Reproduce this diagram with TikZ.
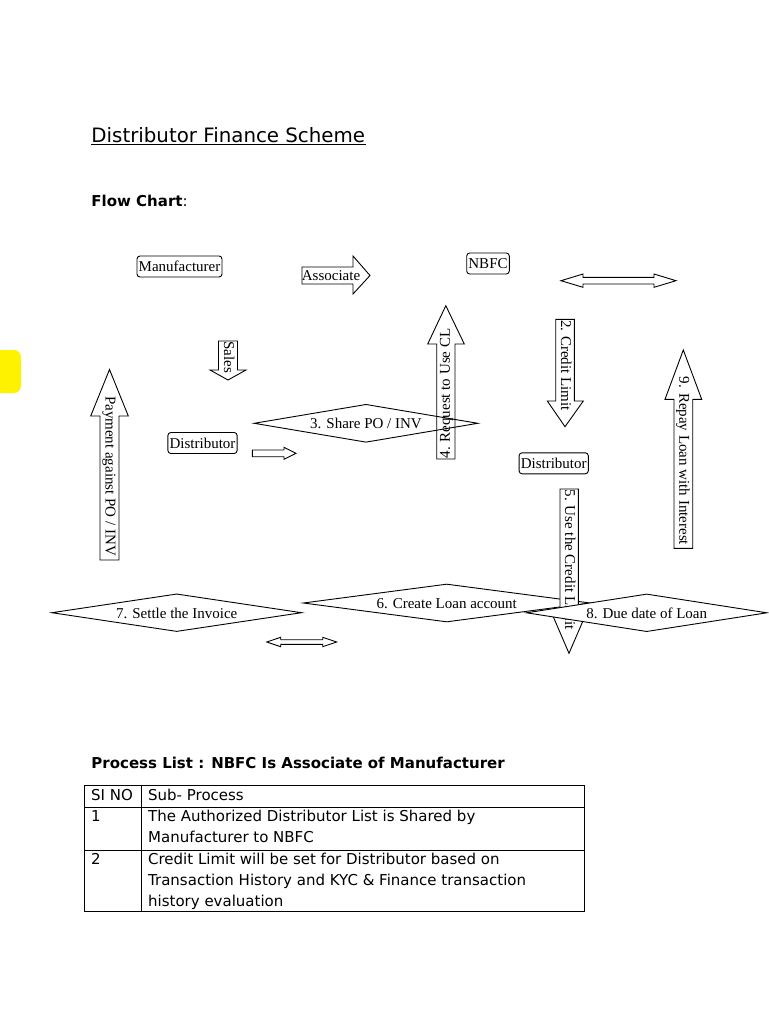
\documentclass[tikz,border=0pt]{standalone}
\usepackage{fontspec}
\setmainfont{DejaVu Sans}
\newfontfamily\serifface{Liberation Serif}
\usetikzlibrary{shapes.geometric}
\tikzset{
  entity/.style={draw,rounded corners=3pt,fill=white,inner xsep=1.7pt,inner ysep=0pt,
    minimum height=21pt,text height=11pt,text depth=1pt,font=\serifface\fontsize{15}{18}\selectfont},
  decision/.style={diamond,draw,fill=white,aspect=6.5,inner sep=0pt,
    text height=11pt,text depth=0pt,font=\serifface\fontsize{15}{18}\selectfont},
  blockarrow/.style={draw,line join=miter},
  arrowtext/.style={inner sep=0pt,text height=11pt,text depth=3pt,font=\serifface\fontsize{15}{18}\selectfont},
  cell/.style={anchor=base west,inner sep=0pt,font=\fontsize{15}{21}\selectfont},
}
\begin{document}
\begin{tikzpicture}[x=1pt,y=-1pt,line width=0.9pt]
  \useasboundingbox (0,0) rectangle (768,1024);
  % marker at the left edge
  \fill[yellow,rounded corners=7pt] (-12,350) rectangle (21,393);
  % headings
  \node[anchor=base west,inner sep=0pt,font=\fontsize{19.8}{24}\selectfont] (title) at (91,142.3) {Distributor Finance Scheme};
  \draw[line width=1pt] ([yshift=-2.2pt]title.base west) -- ([yshift=-2.2pt]title.base east);
  \node[anchor=base west,inner sep=0pt,font=\fontsize{15}{18}\selectfont] (flow) at (91,206.7) {\textbf{Flow Chart}:};

  % parties
  \node[entity] (maker) at (179.5,266.5) {Manufacturer};
  \node[entity] (nbfc) at (488,263.5) {NBFC};
  \node[entity] (distL) at (202.5,443) {Distributor};
  \node[entity] (distR) at (553.7,463.3) {Distributor};

  % block arrows, top half
  \draw[blockarrow,fill=white] (302,267) -- (353,267) -- (353,256) -- (370,275.5) -- (353,294) -- (353,284) -- (302,284) -- cycle;
  \node[arrowtext] (assoc) at (331,276) {Associate};
  \draw[blockarrow,fill=white] (561,280.7) -- (583,274) -- (583,277.3) -- (654,277.3) -- (654,274) -- (676,280.7)
    -- (654,287.3) -- (654,284) -- (583,284) -- (583,287.3) -- cycle;
  \draw[blockarrow,fill=white] (218.5,341) -- (237.5,341) -- (237.5,370) -- (246,370) -- (228,380) -- (210,370) -- (218.5,370) -- cycle;
  \node[arrowtext,rotate=-90] (sales) at (228,357) {Sales};
  \draw[blockarrow,fill=white] (100,560) -- (100,416) -- (90.7,416) -- (109.5,369.5) -- (128.3,416) -- (119,416) -- (119,560) -- cycle;
  \node[arrowtext,rotate=-90] (pay) at (109.5,476) {Payment against PO / INV};
  \draw[blockarrow,fill=white] (555.7,319.3) -- (574.3,319.3) -- (574.3,401) -- (583.3,401) -- (565,426.7) -- (547.3,401) -- (555.7,401) -- cycle;
  \node[arrowtext,rotate=-90] (limit) at (565,365.5) {2. Credit Limit};
  \draw[blockarrow,fill=white] (674,548.3) -- (674,399.3) -- (665,399.3) -- (683.3,350) -- (701.7,399.3) -- (692.7,399.3) -- (692.7,548.3) -- cycle;
  \node[arrowtext,rotate=-90] (repay) at (683.3,461) {9. Repay Loan with Interest};
  \draw[blockarrow,fill=white] (252.3,450) -- (284,450) -- (284,447.3) -- (296,453.3) -- (284,459.3) -- (284,456.7) -- (252.3,456.7) -- cycle;

  % share step and request arrow over it
  \node[decision,minimum width=224pt,minimum height=38pt] (share) at (366,423.3) {3. Share PO / INV};
  \draw[blockarrow] (436.7,459) -- (436.7,344) -- (427.7,344) -- (445.8,305.7) -- (464.3,344) -- (455,344) -- (455,459) -- cycle;
  \node[arrowtext,rotate=90] (request) at (445.8,393.5) {4. Request to Use CL};

  % bottom row
  \node[decision,minimum width=250pt,minimum height=37.7pt] (settle) at (176.7,612.7) {7. Settle the Invoice};
  \node[decision,minimum width=287pt,minimum height=38pt] (loan) at (446.7,603) {6. Create Loan account};
  \draw[blockarrow,fill=white] (560,489) -- (578.3,489) -- (578.3,611.5) -- (587,611.5) -- (569,653.3) -- (551,611.5) -- (560,611.5) -- cycle;
  \node[arrowtext,rotate=-90] (use) at (569,559.5) {5. Use the Credit Limit};
  \node[decision,minimum width=240.7pt,minimum height=37.7pt] (due) at (646.7,612.8) {8. Due date of Loan};
  \draw[blockarrow,fill=white] (266.7,642) -- (280.7,637.3) -- (280.7,639.7) -- (322.7,639.7) -- (322.7,637.3) -- (336.7,642)
    -- (322.7,646.7) -- (322.7,644.3) -- (280.7,644.3) -- (280.7,646.7) -- cycle;

  % process list
  \node[anchor=base west,inner sep=0pt,font=\fontsize{15}{18}\selectfont] (plist) at (91,768.3) {\textbf{Process List : NBFC Is Associate of Manufacturer}};
  \draw[line width=1pt] (84,785) rectangle (584.5,911.7);
  \foreach \y in {807.3,850} \draw (84,\y) -- (584.5,\y);
  \draw (141.7,785) -- (141.7,911.7);
  \node[cell] (hNo) at (90.7,800) {SI NO};
  \node[cell] (hSub) at (147.7,800) {Sub- Process};
  \node[cell] (rOneNo) at (90.7,821.7) {1};
  \node[cell] (rOneA) at (147.7,821.7) {The Authorized Distributor List is Shared by};
  \node[cell] (rOneB) at (147.7,842.7) {Manufacturer to NBFC};
  \node[cell] (rTwoNo) at (90.7,864) {2};
  \node[cell] (rTwoA) at (147.7,864) {Credit Limit will be set for Distributor based on};
  \node[cell] (rTwoB) at (147.7,885) {Transaction History and KYC \& Finance transaction};
  \node[cell] (rTwoC) at (147.7,906) {history evaluation};
\end{tikzpicture}
\end{document}
